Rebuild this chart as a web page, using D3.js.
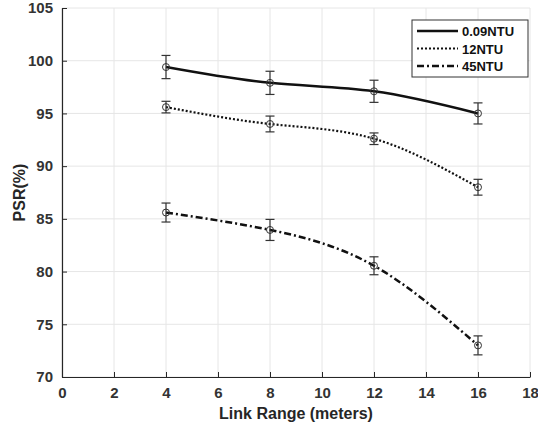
<!DOCTYPE html>
<html>
<head>
<meta charset="utf-8">
<script src="https://cdn.jsdelivr.net/npm/d3@7"></script>
<style>
  body { margin: 0; background: #fff; }
  text { font-family: "Liberation Sans", Arial, sans-serif; font-weight: bold; fill: #262626; }
</style>
</head>
<body>
<div id="chart"></div>
<script>
// data
var ranges = [4, 8, 12, 16];
var seriesNames = ["0.09NTU", "12NTU", "45NTU"];
var psr009 = [99.4, 97.9, 97.1, 95.0];
var err009 = [1.1, 1.1, 1.05, 1.0];
var psr12 = [95.6, 94.0, 92.6, 88.0];
var err12 = [0.55, 0.75, 0.55, 0.75];
var psr45 = [85.6, 83.95, 80.55, 73.0];
var err45 = [0.9, 1.0, 0.85, 0.9];
var xTicks = [0, 2, 4, 6, 8, 10, 12, 14, 16, 18];
var yTicks = [70, 75, 80, 85, 90, 95, 100, 105];

var width = 538, height = 426;
var margin = {top: 8, right: 8, bottom: 49, left: 62};

var svg = d3.select("#chart")
  .append("svg")
  .attr("width", width)
  .attr("height", height);

var x = d3.scaleLinear().domain([0, 18]).range([margin.left, width - margin.right]);
var y = d3.scaleLinear().domain([70, 105]).range([height - margin.bottom, margin.top]);

// grid
svg.append("g").selectAll("line")
  .data(xTicks).enter().append("line")
  .attr("x1", d => x(d)).attr("x2", d => x(d))
  .attr("y1", y(70)).attr("y2", y(105))
  .style("stroke", "#e6e6e6").style("stroke-width", 1);
svg.append("g").selectAll("line")
  .data(yTicks).enter().append("line")
  .attr("x1", x(0)).attr("x2", x(18))
  .attr("y1", d => y(d)).attr("y2", d => y(d))
  .style("stroke", "#e6e6e6").style("stroke-width", 1);

// axes, ticks pointing inward like matlab
var xAxis = svg.append("g")
  .attr("transform", "translate(0," + y(70) + ")")
  .call(d3.axisBottom(x).tickValues(xTicks).tickSize(-5).tickPadding(10).tickSizeOuter(0));
var yAxis = svg.append("g")
  .attr("transform", "translate(" + x(0) + ",0)")
  .call(d3.axisLeft(y).tickValues(yTicks).tickSize(-5).tickPadding(9).tickSizeOuter(0));

[xAxis, yAxis].forEach(function(a) {
  a.select(".domain").style("stroke", "#262626").style("stroke-width", 1.2);
  a.selectAll(".tick line").style("stroke", "#262626");
  a.selectAll(".tick text").style("font-size", "15px").style("fill", "#333");
});

svg.append("text")
  .attr("x", (x(0) + x(18)) / 2)
  .attr("y", 419)
  .attr("text-anchor", "middle")
  .style("font-size", "16px")
  .text("Link Range (meters)");

svg.append("text")
  .attr("transform", "translate(25," + y(87.5) + ") rotate(-90)")
  .attr("text-anchor", "middle")
  .style("font-size", "16px")
  .text("PSR(%)");

var dashes = ["none", "2,2", "7,3,2,3"];
var widths = [2.5, 2.2, 2.5];
var allValues = [psr009, psr12, psr45];
var allErrors = [err009, err12, err45];

var line = d3.line()
  .x(d => x(d[0]))
  .y(d => y(d[1]))
  .curve(d3.curveNatural);

allValues.forEach(function(vals, i) {
  var pts = ranges.map((r, j) => [r, vals[j], allErrors[i][j]]);

  svg.append("path")
    .datum(pts)
    .attr("d", line)
    .style("fill", "none")
    .style("stroke", "#111")
    .style("stroke-width", widths[i])
    .style("stroke-dasharray", dashes[i]);

  var g = svg.append("g").selectAll("g").data(pts).enter().append("g");
  g.append("line")
    .attr("x1", d => x(d[0])).attr("x2", d => x(d[0]))
    .attr("y1", d => y(d[1] - d[2])).attr("y2", d => y(d[1] + d[2]))
    .style("stroke", "#333").style("stroke-width", 1.2);
  g.append("line")
    .attr("x1", d => x(d[0]) - 4.5).attr("x2", d => x(d[0]) + 4.5)
    .attr("y1", d => y(d[1] + d[2])).attr("y2", d => y(d[1] + d[2]))
    .style("stroke", "#333").style("stroke-width", 1.2);
  g.append("line")
    .attr("x1", d => x(d[0]) - 4.5).attr("x2", d => x(d[0]) + 4.5)
    .attr("y1", d => y(d[1] - d[2])).attr("y2", d => y(d[1] - d[2]))
    .style("stroke", "#333").style("stroke-width", 1.2);
  g.append("circle")
    .attr("cx", d => x(d[0])).attr("cy", d => y(d[1]))
    .attr("r", 3.5)
    .style("fill", "none")
    .style("stroke", "#333").style("stroke-width", 1);
});

// legend
var legend = svg.append("g").attr("transform", "translate(412,20)");
legend.append("rect")
  .attr("width", 116).attr("height", 57)
  .style("fill", "#fff").style("stroke", "#333").style("stroke-width", 1);
seriesNames.forEach(function(name, i) {
  var ly = 11 + i * 17.5;
  legend.append("line")
    .attr("x1", 5).attr("x2", 46)
    .attr("y1", ly).attr("y2", ly)
    .style("stroke", "#111")
    .style("stroke-width", widths[i])
    .style("stroke-dasharray", dashes[i]);
  legend.append("text")
    .attr("x", 50).attr("y", ly + 5)
    .style("font-size", "13px")
    .style("fill", "#111")
    .text(name);
});
</script>
</body>
</html>
